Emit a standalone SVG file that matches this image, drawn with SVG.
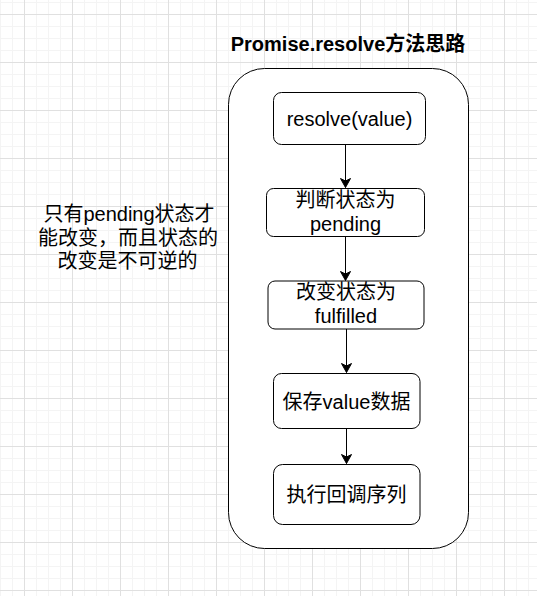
<svg xmlns="http://www.w3.org/2000/svg" width="537" height="596" viewBox="0 0 537 596">
<style>
.node{fill:#ffffff;stroke:#000000;stroke-width:1}
.txt{font-family:"Liberation Sans","Noto Sans CJK SC",sans-serif;font-size:20px;fill:#000000;text-anchor:middle}
.title{font-family:"Liberation Sans","Noto Sans CJK SC",sans-serif;font-size:20px;font-weight:bold;fill:#000000;text-anchor:middle}
.edge{fill:none;stroke:#000000;stroke-width:1}
</style>
<defs>
<pattern id="grid" patternUnits="userSpaceOnUse" x="24" y="14" width="48" height="48">
<rect x="12" y="0" width="1" height="48" fill="#f4f4f4"/>
<rect x="24" y="0" width="1" height="48" fill="#f4f4f4"/>
<rect x="36" y="0" width="1" height="48" fill="#f4f4f4"/>
<rect x="0" y="12" width="48" height="1" fill="#f4f4f4"/>
<rect x="0" y="24" width="48" height="1" fill="#f4f4f4"/>
<rect x="0" y="36" width="48" height="1" fill="#f4f4f4"/>
<rect x="0" y="0" width="1" height="48" fill="#e0e0e0"/>
<rect x="0" y="0" width="48" height="1" fill="#e0e0e0"/>
</pattern>
<marker id="arrow" markerUnits="userSpaceOnUse" markerWidth="12" markerHeight="12" viewBox="-10 -6 12 12" refX="0" refY="0" orient="auto">
<path d="M -9 -5 L 0 0 L -9 5 L -6.5 0 Z" fill="#000000" stroke="#000000" stroke-width="1"/>
</marker>
</defs>
<rect x="0" y="0" width="537" height="596" fill="#ffffff"/>
<rect x="0" y="0" width="537" height="596" fill="url(#grid)"/>

<g id="container">
<rect x="228.5" y="68.5" width="240" height="480" rx="36" ry="36" class="node"/>
<text class="title" x="348" y="50.5">Promise.resolve方法思路</text>
</g>

<g id="connectors">
<path class="edge" d="M 345.5 144 L 345.5 187.5" marker-end="url(#arrow)"/>
<path class="edge" d="M 345.5 236 L 345.5 280.5" marker-end="url(#arrow)"/>
<path class="edge" d="M 346.5 329 L 346.5 372.5" marker-end="url(#arrow)"/>
<path class="edge" d="M 346.5 428 L 346.5 463.5" marker-end="url(#arrow)"/>
</g>

<g id="node-resolve">
<rect x="273.5" y="92.5" width="152" height="52" rx="8" ry="8" class="node"/>
<text class="txt" x="349.5" y="125.5">resolve(value)</text>
</g>

<g id="node-check">
<rect x="266.5" y="188.5" width="158" height="48" rx="7" ry="7" class="node"/>
<text class="txt" x="345.5" y="207">判断状态为</text>
<text class="txt" x="345.5" y="231">pending</text>
</g>

<g id="node-change">
<rect x="268" y="281" width="156" height="48" rx="7" ry="7" class="node"/>
<text class="txt" x="346" y="299">改变状态为</text>
<text class="txt" x="346" y="323">fulfilled</text>
</g>

<g id="node-save">
<rect x="273.5" y="373.5" width="146.5" height="55" rx="8" ry="8" class="node"/>
<text class="txt" x="346.5" y="408.5">保存value数据</text>
</g>

<g id="node-exec">
<rect x="273.5" y="464.5" width="146.5" height="60" rx="9" ry="9" class="node"/>
<text class="txt" x="346.5" y="502">执行回调序列</text>
</g>

<g id="note">
<text class="txt" x="129" y="221">只有pending状态才</text>
<text class="txt" x="128" y="244.5">能改变，而且状态的</text>
<text class="txt" x="127.5" y="268">改变是不可逆的</text>
</g>
</svg>
